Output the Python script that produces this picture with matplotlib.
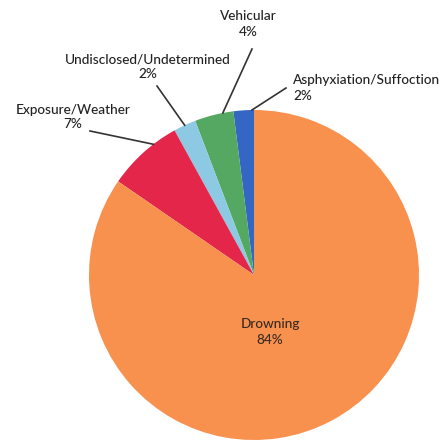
import numpy as np
import matplotlib.pyplot as plt

plt.rcParams['font.family'] = ['Lato', 'DejaVu Sans']

# slices, counterclockwise from 12 o'clock
causes = ["Asphyxiation/Suffoction", "Vehicular", "Undisclosed/Undetermined",
          "Exposure/Weather", "Drowning"]
shares = [2.0, 3.8, 2.2, 7.4, 84.6]
shown_pct = [2, 4, 2, 7, 84]
colors = ['#3466C4', '#55A862', '#8DC9E3', '#E3264A', '#F8904E']

W, H = 448, 442
fig = plt.figure(figsize=(W / 100, H / 100), dpi=100)
ax = fig.add_axes([0, 0, 1, 1])

cx, cy, r = 254, H - 275, 165
wedges, _ = ax.pie(shares, colors=colors, startangle=90, counterclock=True,
                   center=(cx, cy), radius=r,
                   wedgeprops=dict(linewidth=0))
ax.set_xlim(0, W)
ax.set_ylim(0, H)
ax.set_aspect('equal')
ax.axis('off')

# label block centre (pixels from top-left), alignment, leader end
label_pos = {
    "Asphyxiation/Suffoction": (293, 88, 'left', (286, 88)),
    "Vehicular": (248, 24, 'center', (252, 49)),
    "Undisclosed/Undetermined": (148, 67, 'center', (157, 86)),
    "Exposure/Weather": (73, 117, 'center', (90, 131)),
}
frac = {"Asphyxiation/Suffoction": 0.1, "Vehicular": 0.27,
        "Undisclosed/Undetermined": 0.5, "Exposure/Weather": 0.33}

for w, name, p in zip(wedges, causes, shown_pct):
    txt = "%s\n%d%%" % (name, p)
    if name == "Drowning":
        ax.text(270, H - 332, txt, ha='center', va='center', fontsize=9.8,
                color='#3a2a20', linespacing=1.3, fontweight='medium')
        continue
    x, y, ha, (lx, ly) = label_pos[name]
    ax.text(x, H - y, txt, ha=ha, va='center', multialignment=ha,
            fontsize=9.8, color='#222222', linespacing=1.3,
            fontweight='medium')
    ang = np.radians(w.theta1 + (w.theta2 - w.theta1) * frac[name])
    px, py = cx + r * np.cos(ang), cy + r * np.sin(ang)
    ax.plot([lx, px], [H - ly, py], color='#333333', lw=1.2)

plt.savefig("out.png", dpi=100)
